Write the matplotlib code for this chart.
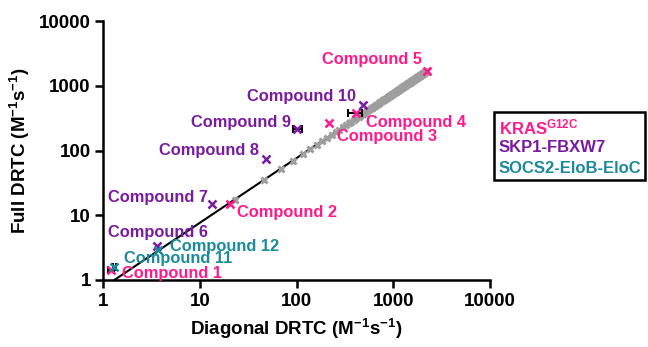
import matplotlib
matplotlib.use("Agg")
import matplotlib.pyplot as plt
from matplotlib.patches import Rectangle

plt.rcParams['font.family'] = ['Liberation Sans', 'DejaVu Sans']
plt.rcParams['font.weight'] = 'bold'
plt.rcParams['mathtext.fontset'] = 'custom'
plt.rcParams['mathtext.rm'] = 'Liberation Sans:bold'
plt.rcParams['mathtext.bf'] = 'Liberation Sans:bold'
plt.rcParams['mathtext.it'] = 'Liberation Sans:bold'
plt.rcParams['mathtext.default'] = 'rm'

PINK = '#FF1A8C'
PURPLE = '#7A1AA0'
TEAL = '#1C8A9C'
GREY = '#9E9E9E'

# Compound data: (name, group, diagonal DRTC, full DRTC)
names = ['Compound 1', 'Compound 2', 'Compound 3', 'Compound 4', 'Compound 5',
         'Compound 6', 'Compound 7', 'Compound 8', 'Compound 9', 'Compound 10',
         'Compound 11', 'Compound 12']
groups = ['KRAS', 'KRAS', 'KRAS', 'KRAS', 'KRAS',
          'SKP1', 'SKP1', 'SKP1', 'SKP1', 'SKP1',
          'SOCS2', 'SOCS2']
diag = [1.2, 20.4, 216, 410, 2210, 3.56, 13.2, 48, 100, 485, 1.3, 3.65]
full = [1.42, 14.9, 268, 378, 1690, 3.35, 14.9, 74, 212, 505, 1.6, 2.9]
xerr_lo = [0.08, 0, 0, 68, 0, 0, 0, 0, 9, 0, 0.05, 0]
xerr_hi = [0.1, 0, 0, 60, 0, 0, 0, 0, 13, 0, 0.06, 0]

# label offsets in pixels (dx, dy) from point
label_dx = [61, 57, 58, 60, -55, 1, -54, -57, -56, -61, 64, 67]
label_dy = [-3, -8, -14, -9, 11, 14, 7, 8, 7, 8, 8, 4]

# grey reference series along diagonal
grey_x = [23, 46, 69, 92, 115, 138, 161, 184, 207, 230, 253, 276, 299, 322, 345,
          368, 391, 414, 437, 460, 483, 506, 529, 552, 575, 598, 621, 644, 667, 690,
          713, 736, 759, 782, 805, 828, 851, 874, 897, 920, 943, 966, 989, 1012, 1035,
          1058, 1081, 1104, 1127, 1150, 1173, 1196, 1219, 1242, 1265, 1288, 1311, 1334,
          1357, 1380, 1403, 1426, 1449, 1472, 1495, 1518, 1541, 1564, 1587, 1610, 1633,
          1656, 1679, 1702, 1725, 1748, 1771, 1794, 1817, 1840, 1863, 1886, 1909, 1932,
          1955, 1978, 2001, 2024, 2047, 2070, 2093, 2116, 2139, 2162, 2185, 2208, 2231]
grey_y = [17.5, 35, 52.5, 70, 87.5, 105, 122.5, 140, 157.5, 175, 192.5, 210, 227.5,
          245, 262.5, 280, 297.5, 315, 332.5, 350, 367.5, 385, 402.5, 420, 437.5, 455,
          472.5, 490, 507.5, 525, 542.5, 560, 577.5, 595, 612.5, 630, 647.5, 665, 682.5,
          700, 717.5, 735, 752.5, 770, 787.5, 805, 822.5, 840, 857.5, 875, 892.5, 910,
          927.5, 945, 962.5, 980, 997.5, 1015, 1032.5, 1050, 1067.5, 1085, 1102.5, 1120,
          1137.5, 1155, 1172.5, 1190, 1207.5, 1225, 1242.5, 1260, 1277.5, 1295, 1312.5,
          1330, 1347.5, 1365, 1382.5, 1400, 1417.5, 1435, 1452.5, 1470, 1487.5, 1505,
          1522.5, 1540, 1557.5, 1575, 1592.5, 1610, 1627.5, 1645, 1662.5, 1680, 1697.5]

# fitted line
line_x = [1.3, 2230]
line_y = [1.0, 1700]

xticks = [1, 10, 100, 1000, 10000]
xtick_labels = ['1', '10', '100', '1000', '10000']
yticks = [1, 10, 100, 1000, 10000]
ytick_labels = ['1', '10', '100', '1000', '10000']

group_colors = {'KRAS': PINK, 'SKP1': PURPLE, 'SOCS2': TEAL}
legend_labels = ['KRAS$^{\\mathrm{G12C}}$', 'SKP1-FBXW7', 'SOCS2-EloB-EloC']
legend_colors = [PINK, PURPLE, TEAL]

fig = plt.figure(figsize=(6.48, 3.47), dpi=100)
ax = fig.add_axes([103.3 / 648, 1 - 280 / 347, (490 - 103.3) / 648, (280 - 21) / 347])
ax.set_xscale('log')
ax.set_yscale('log')
ax.set_xlim(1, 10000)
ax.set_ylim(1, 10000)

ax.plot(line_x, line_y, color='black', lw=1.5, zorder=2, clip_on=True)
ax.plot(grey_x, grey_y, linestyle='none', marker='x', ms=4.5, mew=2.2,
        color=GREY, zorder=3)

for i in range(len(names)):
    c = group_colors[groups[i]]
    if xerr_lo[i] > 0 or xerr_hi[i] > 0:
        ax.errorbar([diag[i]], [full[i]], xerr=[[xerr_lo[i]], [xerr_hi[i]]],
                    fmt='none', ecolor='black', elinewidth=1.5, capsize=3,
                    capthick=1.5, zorder=4)
    ax.plot([diag[i]], [full[i]], linestyle='none', marker='x', ms=6, mew=1.8,
            color=c, zorder=5, clip_on=False)
    ax.annotate(names[i], (diag[i], full[i]), xytext=(label_dx[i], label_dy[i]),
                textcoords='offset pixels', ha='center', va='center',
                color=c, fontsize=11.8, fontweight='bold', zorder=6)

for s in ['top', 'right']:
    ax.spines[s].set_visible(False)
for s in ['left', 'bottom']:
    ax.spines[s].set_linewidth(1.8)
ax.set_xticks(xticks)
ax.set_xticklabels(xtick_labels)
ax.set_yticks(yticks)
ax.set_yticklabels(ytick_labels)
ax.minorticks_off()
ax.tick_params(axis='both', which='major', length=6, width=1.8, labelsize=13.5,
               direction='out', pad=3)
for lbl in ax.get_xticklabels() + ax.get_yticklabels():
    lbl.set_fontweight('bold')
ax.set_xlabel('Diagonal DRTC (M$^{-1}$s$^{-1}$)', fontsize=13.5, fontweight='bold',
              labelpad=5)
ax.set_ylabel('Full DRTC (M$^{-1}$s$^{-1}$)', fontsize=13.5, fontweight='bold',
              labelpad=5)

# legend box
fig.patches.append(Rectangle((494 / 648, 1 - 180 / 347), (645 - 494) / 648,
                             (180 - 112) / 347, transform=fig.transFigure,
                             fill=False, edgecolor='black', lw=1.8))
leg_y = [127, 148, 168]
for lab, col, yy in zip(legend_labels, legend_colors, leg_y):
    fig.text(499 / 648, 1 - yy / 347, lab, color=col, fontsize=12,
             fontweight='bold', ha='left', va='center')

fig.savefig('out.png', dpi=100)
